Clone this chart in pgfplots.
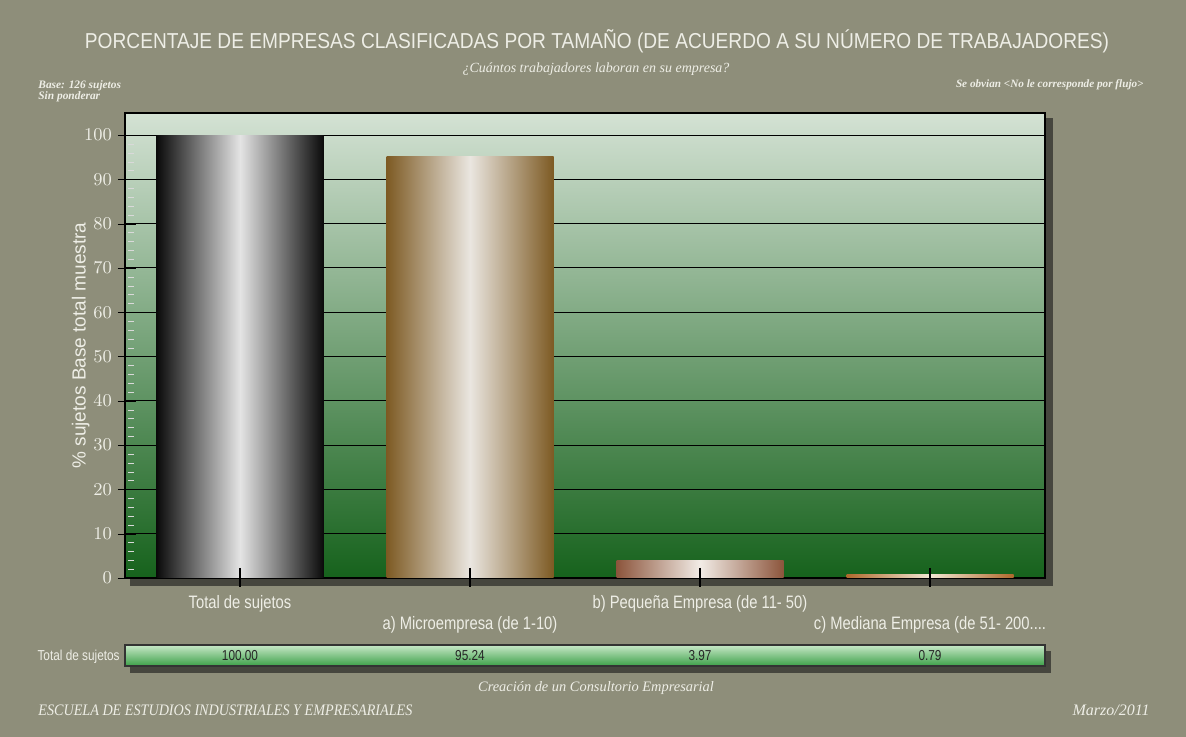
\documentclass[border=0pt]{standalone}
\usepackage{pgfplots}
\pgfplotsset{compat=1.18}
\usepackage{fontspec}
\usepackage{graphicx}
\setmainfont{Liberation Sans}
\newfontfamily\narrow[FakeStretch=0.82]{Liberation Sans}
\newfontfamily\serifit{Liberation Serif}
\definecolor{bgc}{RGB}{142,142,122}
\definecolor{shadowc}{RGB}{70,70,62}
\definecolor{plottop}{RGB}{212,226,212}
\definecolor{plotbot}{RGB}{22,98,28}
\definecolor{txt}{RGB}{238,238,230}
\definecolor{bandtop}{RGB}{200,232,200}
\definecolor{bandbot}{RGB}{60,160,72}
\definecolor{baA}{RGB}{10,10,10}
\definecolor{bmA}{RGB}{228,228,228}
\definecolor{baB}{RGB}{125,90,35}
\definecolor{bmB}{RGB}{234,230,224}
\definecolor{baC}{RGB}{140,85,60}
\definecolor{bmC}{RGB}{242,236,230}
\definecolor{baD}{RGB}{175,105,45}
\definecolor{bmD}{RGB}{242,232,212}
\begin{document}
\begin{tikzpicture}[x=1pt,y=1pt]
\path[use as bounding box] (0,0) rectangle (593,368.5);
\fill[bgc] (0,0) rectangle (593,368.5);
% plot shadow
\fill[shadowc] (65,75.5) rectangle (526.5,309.5);
% data band
\fill[shadowc] (65,32) rectangle (525.5,43);
\shade[top color=bandtop, bottom color=bandbot] (62.5,35.5) rectangle (522.5,46);
\draw[black!80, line width=0.6pt] (62.5,35.5) rectangle (522.5,46);
\node[anchor=base east, text=txt, inner sep=0pt] at (60,38.3) {\narrow\fontsize{7.2}{8}\selectfont Total de sujetos};
% titles
\node[anchor=base, text=txt, inner sep=0pt] at (298.5,344) {\resizebox{512pt}{\height}{\fontsize{10.8}{12}\selectfont PORCENTAJE DE EMPRESAS CLASIFICADAS POR TAMAÑO (DE ACUERDO A SU NÚMERO DE TRABAJADORES)}};
\node[anchor=base, text=txt, inner sep=0pt] at (298,332) {\serifit\itshape\fontsize{7}{9}\selectfont ¿Cuántos trabajadores laboran en su empresa?};
\node[anchor=base west, text=txt, inner sep=0pt] at (19,324) {\serifit\bfseries\itshape\fontsize{5.7}{6}\selectfont Base: 126 sujetos};
\node[anchor=base west, text=txt, inner sep=0pt] at (19,318.5) {\serifit\bfseries\itshape\fontsize{5.7}{6}\selectfont Sin ponderar};
\node[anchor=base east, text=txt, inner sep=0pt] at (572,324.5) {\serifit\bfseries\itshape\fontsize{5.6}{6}\selectfont Se obvian <No le corresponde por flujo>};
\node[anchor=base, text=txt, inner sep=0pt] at (298,22.5) {\serifit\itshape\fontsize{7.2}{8}\selectfont Creación de un Consultorio Empresarial};
\node[anchor=base west, text=txt, inner sep=0pt] at (19,10.5) {\resizebox{187pt}{\height}{\serifit\itshape\fontsize{8}{9}\selectfont ESCUELA DE ESTUDIOS INDUSTRIALES Y EMPRESARIALES}};
\node[anchor=base east, text=txt, inner sep=0pt] at (575,10.5) {\serifit\itshape\fontsize{8}{9}\selectfont Marzo/2011};
\begin{axis}[
  at={(62.5pt,79.5pt)}, anchor=south west,
  scale only axis, width=460pt, height=232.5pt,
  xmin=-0.5, xmax=3.5, ymin=0, ymax=105,
  clip=false,
  axis background/.style={top color=plottop, bottom color=plotbot},
  axis line style={black, line width=0.6pt},
  ytick={0,10,20,30,40,50,60,70,80,90,100},
  minor y tick num=4,
  ymajorgrids, major grid style={black, line width=0.5pt},
  ytick pos=left, xtick pos=bottom,
  major tick length=9pt, minor tick length=3pt,
  xtick align=center, ytick align=outside,
  major y tick style={xshift=5.5pt, black},
  minor y tick style={xshift=4.5pt, gray!30},
  major x tick style={black, line width=0.6pt},
  yticklabel style={text=txt, font=\narrow\fontsize{9}{10}\selectfont, xshift=6pt},
  xticklabel style={text=txt, font=\narrow\fontsize{9}{10}\selectfont, yshift=-0.5pt},
  xtick={0,2},
  xticklabels={{Total de sujetos}, {b) Pequeña Empresa (de 11- 50)}},
  extra x ticks={1,3},
  extra x tick labels={{a) Microempresa (de 1-10)}, {c) Mediana Empresa (de 51- 200.{}.{}.{}.}},
  extra x tick style={xticklabel style={yshift=-10.5pt}},
  every axis y label/.style={at={(axis description cs:-0.048,0.5)}, rotate=90, anchor=center},
  ylabel={\fontsize{9.5}{10}\selectfont\color{txt}\% sujetos Base total muestra},
]
\addplot[ybar, bar width=83.5pt, bar shift=0pt, draw=none, left color=baA, right color=baA, middle color=bmA] coordinates {(0,100)};
\addplot[ybar, bar width=83.5pt, bar shift=0pt, draw=none, left color=baB, right color=baB, middle color=bmB] coordinates {(1,95.24)};
\addplot[ybar, bar width=83.5pt, bar shift=0pt, draw=none, left color=baC, right color=baC, middle color=bmC] coordinates {(2,3.97)};
\addplot[ybar, bar width=83.5pt, bar shift=0pt, draw=none, left color=baD, right color=baD, middle color=bmD] coordinates {(3,0.79)};
\draw[black, line width=0.6pt] (axis cs:0,2.3) -- (axis cs:0,-1.6);
\draw[black, line width=0.6pt] (axis cs:1,2.3) -- (axis cs:1,-1.6);
\draw[black, line width=0.6pt] (axis cs:2,2.3) -- (axis cs:2,-1.6);
\draw[black, line width=0.6pt] (axis cs:3,2.3) -- (axis cs:3,-1.6);
\node[anchor=base, text=black!85, inner sep=0pt, font=\narrow\fontsize{7.2}{8}\selectfont] at (axis cs:0,-18.7) {100.00};
\node[anchor=base, text=black!85, inner sep=0pt, font=\narrow\fontsize{7.2}{8}\selectfont] at (axis cs:1,-18.7) {95.24};
\node[anchor=base, text=black!85, inner sep=0pt, font=\narrow\fontsize{7.2}{8}\selectfont] at (axis cs:2,-18.7) {3.97};
\node[anchor=base, text=black!85, inner sep=0pt, font=\narrow\fontsize{7.2}{8}\selectfont] at (axis cs:3,-18.7) {0.79};
\end{axis}
\end{tikzpicture}
\end{document}
